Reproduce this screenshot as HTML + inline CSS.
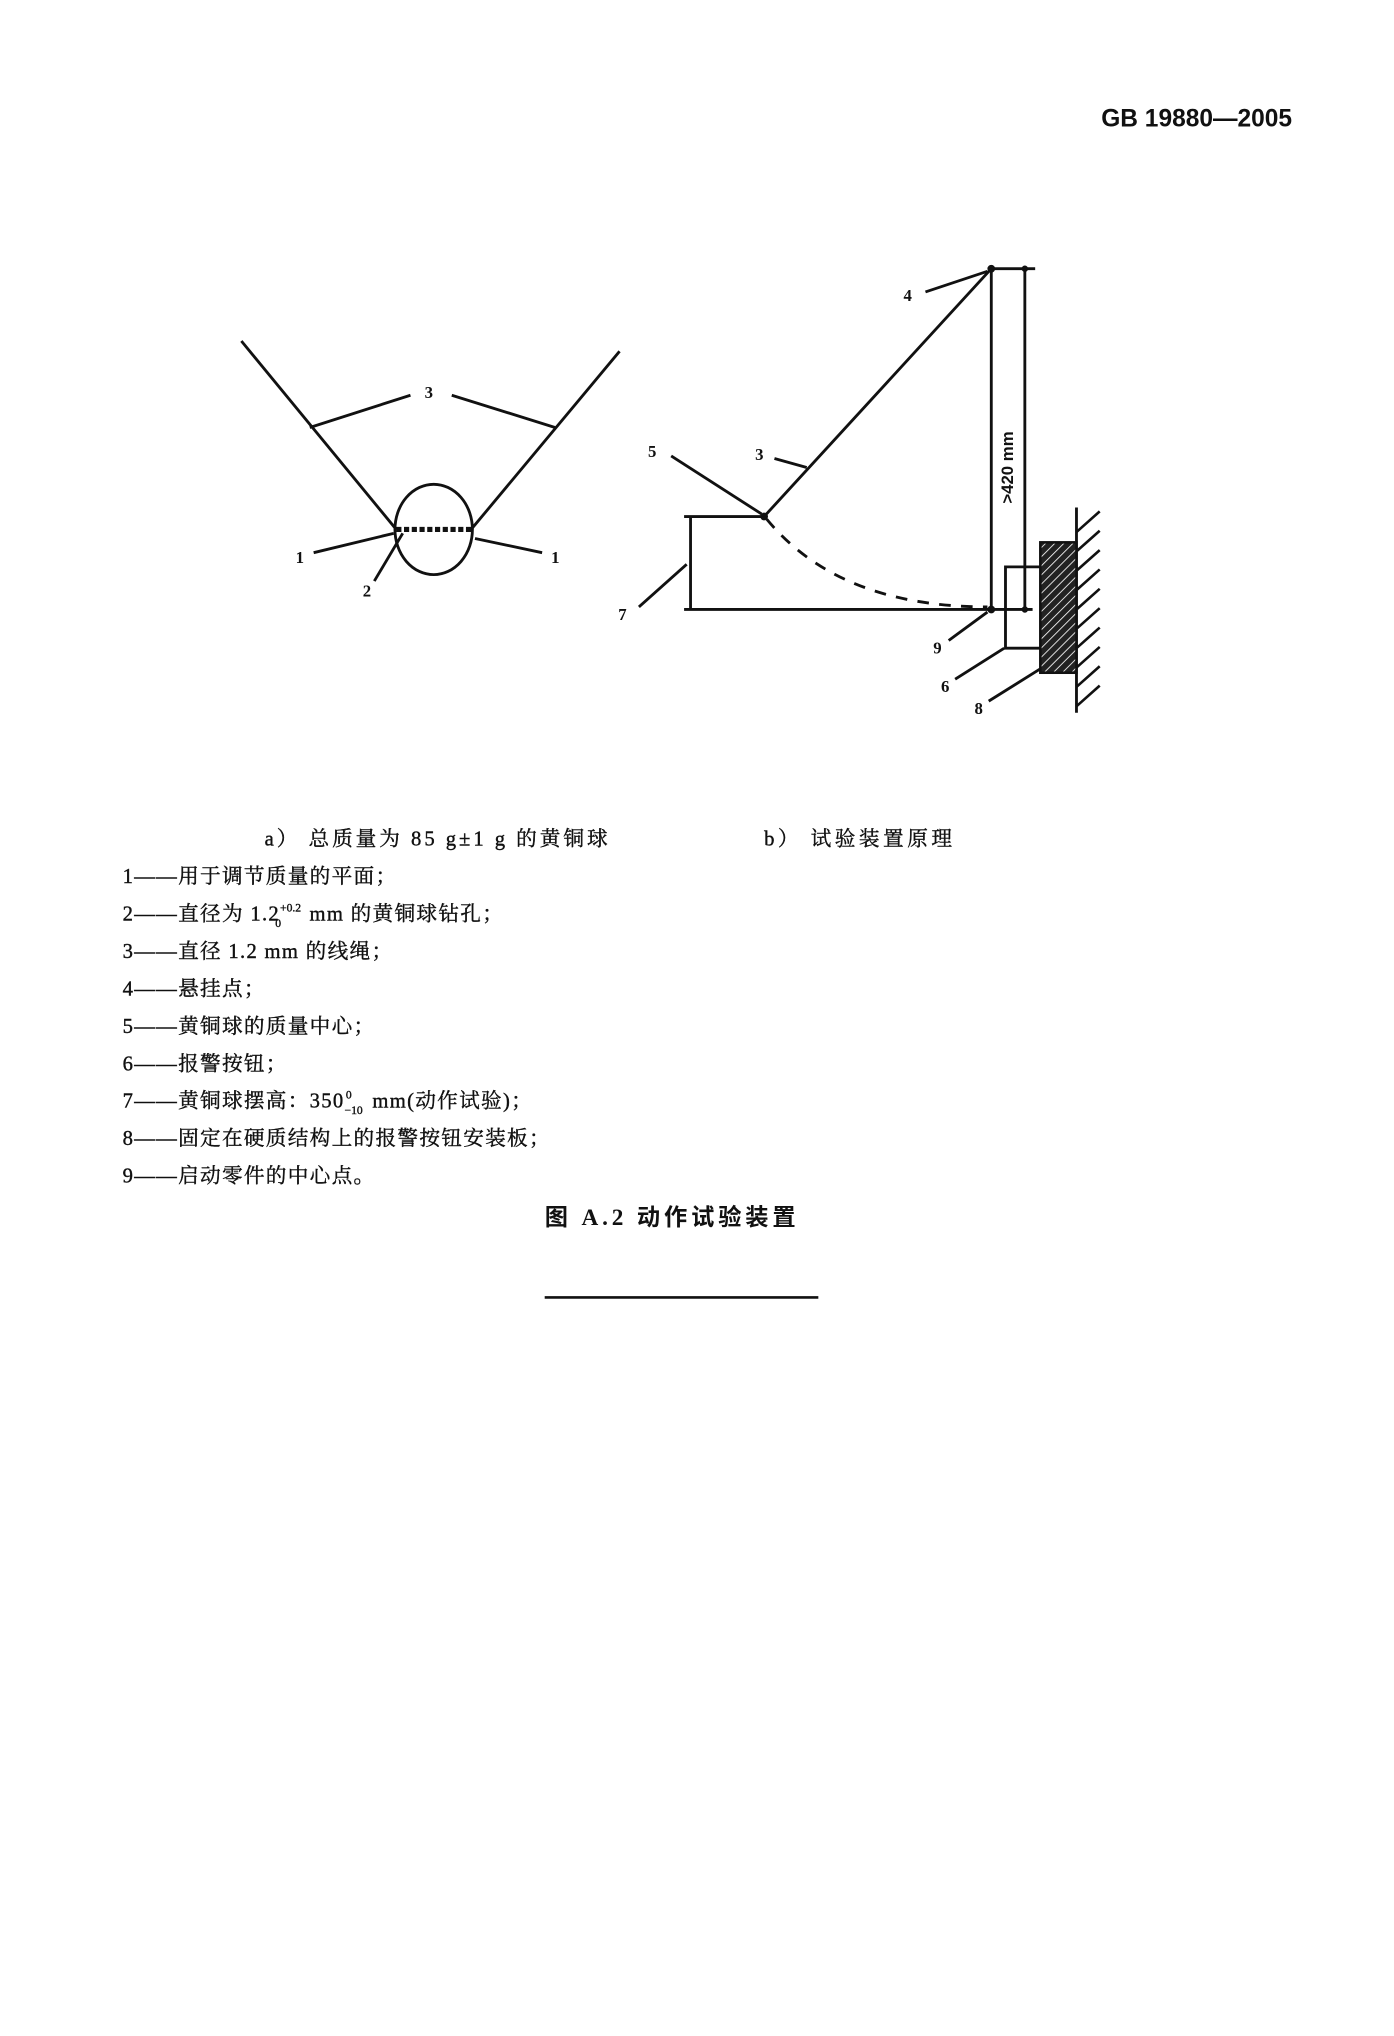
<!DOCTYPE html>
<html><head><meta charset="utf-8"><style>
html,body{margin:0;padding:0;background:#fff}
svg{display:block}
text{font-family:"Liberation Serif","Noto Serif CJK SC","Noto Sans CJK SC",serif;fill:#111}
.cj{font-family:"Liberation Serif","Noto Sans CJK SC",sans-serif}
.lg text{stroke:#111;stroke-width:0.3}
</style></head><body>
<svg width="1394" height="2036" viewBox="0 0 1080 1577" xmlns="http://www.w3.org/2000/svg">
<defs>
<pattern id="h" width="5" height="5" patternUnits="userSpaceOnUse" patternTransform="rotate(45)">
<rect width="5" height="5" fill="#222"/><line x1="0" y1="0" x2="0" y2="5" stroke="#fff" stroke-width="1.3"/>
</pattern>
</defs>
<text x="1001" y="98" text-anchor="end" font-weight="bold" font-size="19" style="font-family:'Liberation Sans',sans-serif">GB 19880—2005</text>
<g stroke="#111" stroke-width="2.2" fill="none">
<line x1="187" y1="264" x2="307" y2="410"/>
<line x1="480" y1="272" x2="365" y2="410"/>
<ellipse cx="336" cy="410" rx="30" ry="35"/>
<line x1="307" y1="410" x2="366" y2="410" stroke-width="4" stroke-dasharray="4 2"/>
<line x1="240" y1="331" x2="318" y2="306"/>
<line x1="350" y1="306" x2="430" y2="331"/>
<line x1="243" y1="428" x2="305" y2="413"/>
<line x1="368" y1="417" x2="420" y2="428"/>
<line x1="290" y1="450" x2="312" y2="413"/>
<line x1="768" y1="208" x2="592" y2="400"/>
<line x1="768" y1="208" x2="768" y2="474"/>
<line x1="768" y1="208" x2="802" y2="208"/>
<line x1="794" y1="208" x2="794" y2="474"/>
<line x1="530" y1="472" x2="800" y2="472"/>
<line x1="530" y1="400" x2="592" y2="400"/>
<line x1="535" y1="400" x2="535" y2="472"/>
<path d="M594 402 Q650 470 765 470" stroke-dasharray="9 8"/>
<line x1="520" y1="353" x2="590" y2="398"/>
<line x1="600" y1="355" x2="625" y2="362"/>
<line x1="717" y1="226" x2="765" y2="210"/>
<line x1="495" y1="470" x2="532" y2="437"/>
<line x1="735" y1="496" x2="765" y2="474"/>
<polyline points="810,439 779,439 779,502 810,502"/>
<line x1="740" y1="526" x2="778" y2="502"/>
<line x1="766" y1="543" x2="806" y2="518"/>
<line x1="834" y1="393" x2="834" y2="552"/>
</g>
<rect x="806" y="420" width="28" height="101" fill="url(#h)" stroke="#111" stroke-width="2"/>
<g stroke="#111" stroke-width="2">
<line x1="834" y1="412" x2="852" y2="396"/><line x1="834" y1="427" x2="852" y2="411"/>
<line x1="834" y1="442" x2="852" y2="426"/><line x1="834" y1="457" x2="852" y2="441"/>
<line x1="834" y1="472" x2="852" y2="456"/><line x1="834" y1="487" x2="852" y2="471"/>
<line x1="834" y1="502" x2="852" y2="486"/><line x1="834" y1="517" x2="852" y2="501"/>
<line x1="834" y1="532" x2="852" y2="516"/><line x1="834" y1="547" x2="852" y2="531"/>
</g>
<g fill="#111"><circle cx="768" cy="208" r="3"/><circle cx="794" cy="208" r="2.5"/><circle cx="592" cy="400" r="3"/><circle cx="768" cy="472" r="3"/><circle cx="794" cy="472" r="2.5"/></g>
<g font-size="13" font-weight="bold">
<text x="329" y="308">3</text><text x="229" y="436">1</text><text x="427" y="436">1</text><text x="281" y="462">2</text>
<text x="700" y="233">4</text><text x="502" y="354">5</text><text x="585" y="356">3</text><text x="479" y="480">7</text>
<text x="723" y="506">9</text><text x="729" y="536">6</text><text x="755" y="553">8</text>
</g>
<text transform="translate(785,390) rotate(-90)" font-size="13" font-weight="bold" style="font-family:'Liberation Sans',sans-serif">&gt;420  mm</text>
<g font-size="16" class="cj lg">
<text x="205" y="655" letter-spacing="2.3">a） 总质量为 85 g±1 g 的黄铜球</text>
<text x="592" y="655" letter-spacing="2.7">b） 试验装置原理</text>
<g letter-spacing="1">
<text x="95" y="684">1——用于调节质量的平面；</text>
<text x="95" y="713">2——直径为 1.2<tspan font-size="9" dy="-7" letter-spacing="0">+0.2</tspan><tspan font-size="9" dx="-20" dy="12">0</tspan><tspan dy="-5" dx="16"> mm 的黄铜球钻孔；</tspan></text>
<text x="95" y="742">3——直径 1.2 mm 的线绳；</text>
<text x="95" y="771">4——悬挂点；</text>
<text x="95" y="800">5——黄铜球的质量中心；</text>
<text x="95" y="829">6——报警按钮；</text>
<text x="95" y="858">7——黄铜球摆高：350<tspan font-size="9" dy="5" letter-spacing="0">−10</tspan><tspan font-size="9" dx="-13" dy="-12">0</tspan><tspan dy="7" dx="10"> mm(动作试验)；</tspan></text>
<text x="95" y="887">8——固定在硬质结构上的报警按钮安装板；</text>
<text x="95" y="916">9——启动零件的中心点。</text>
</g>
</g>
<text x="422" y="949" font-size="18" font-weight="bold" class="cj" letter-spacing="3">图 A.2  动作试验装置</text>
<line x1="422" y1="1005" x2="634" y2="1005" stroke="#111" stroke-width="2"/>
</svg>
</body></html>
